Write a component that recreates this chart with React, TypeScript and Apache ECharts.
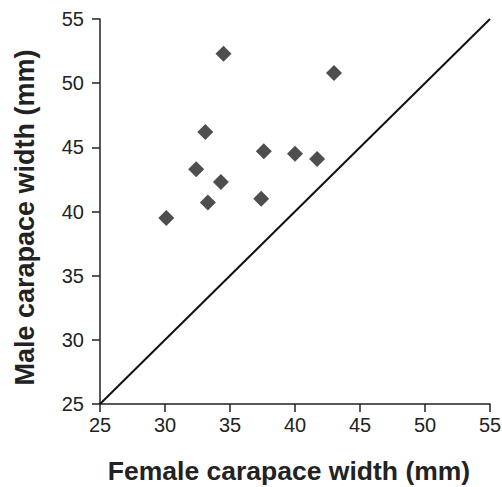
import React, { useEffect, useRef } from "react";
import * as echarts from "echarts";

const femaleWidth = [30.1, 32.4, 33.1, 33.3, 34.3, 34.5, 37.4, 37.6, 40.0, 41.7, 43.0];
const maleWidth = [39.5, 43.3, 46.2, 40.7, 42.3, 52.3, 41.0, 44.7, 44.5, 44.1, 50.8];
const identityLine = [
  [25, 25],
  [55, 55],
];
const axisMin = 25;
const axisMax = 55;
const tickStep = 5;

export default function App() {
  const ref = useRef<HTMLDivElement>(null);
  useEffect(() => {
    if (!ref.current) return;
    const chart = echarts.init(ref.current, undefined, { renderer: "svg" });
    const points = femaleWidth.map((x, i) => [x, maleWidth[i]]);
    const font = "'Liberation Sans', Arial, Helvetica, sans-serif";
    const axisCommon = {
      type: "value",
      min: axisMin,
      max: axisMax,
      interval: tickStep,
      splitLine: { show: false },
      axisLine: { show: true, onZero: false, lineStyle: { color: "#222", width: 1.5 } },
      axisTick: { show: true, inside: false, length: 8, lineStyle: { color: "#222", width: 1.5 } },
    };
    chart.setOption({
      animation: false,
      backgroundColor: "#fff",
      grid: {
        left: 100,
        right: 12,
        top: 19,
        bottom: 83,
        containLabel: false,
        outerBoundsMode: "none",
      },
      xAxis: {
        ...axisCommon,
        name: "Female carapace width (mm)",
        nameLocation: "middle",
        nameGap: 53,
        nameTextStyle: {
          fontFamily: font,
          fontSize: 26.5,
          fontWeight: "bold",
          color: "#222",
          padding: [0, 12, 0, 0],
        },
        axisLabel: { margin: 11, fontFamily: font, fontSize: 20, color: "#222" },
      },
      yAxis: {
        ...axisCommon,
        name: "Male carapace width (mm)",
        nameLocation: "middle",
        nameGap: 62,
        nameTextStyle: {
          fontFamily: font,
          fontSize: 27,
          fontWeight: "bold",
          color: "#222",
          padding: [0, 12, 0, 0],
        },
        axisLabel: { margin: 16, fontFamily: font, fontSize: 20, color: "#222" },
      },
      series: [
        {
          type: "line",
          data: identityLine,
          symbol: "none",
          lineStyle: { color: "#111", width: 2 },
          silent: true,
        },
        {
          type: "scatter",
          data: points,
          symbol: "diamond",
          symbolSize: 16,
          itemStyle: { color: "#222" },
        },
      ],
    });
    return () => chart.dispose();
  }, []);
  return <div ref={ref} style={{ width: 502, height: 487, position: "absolute", left: 0, top: 0 }} />;
}
